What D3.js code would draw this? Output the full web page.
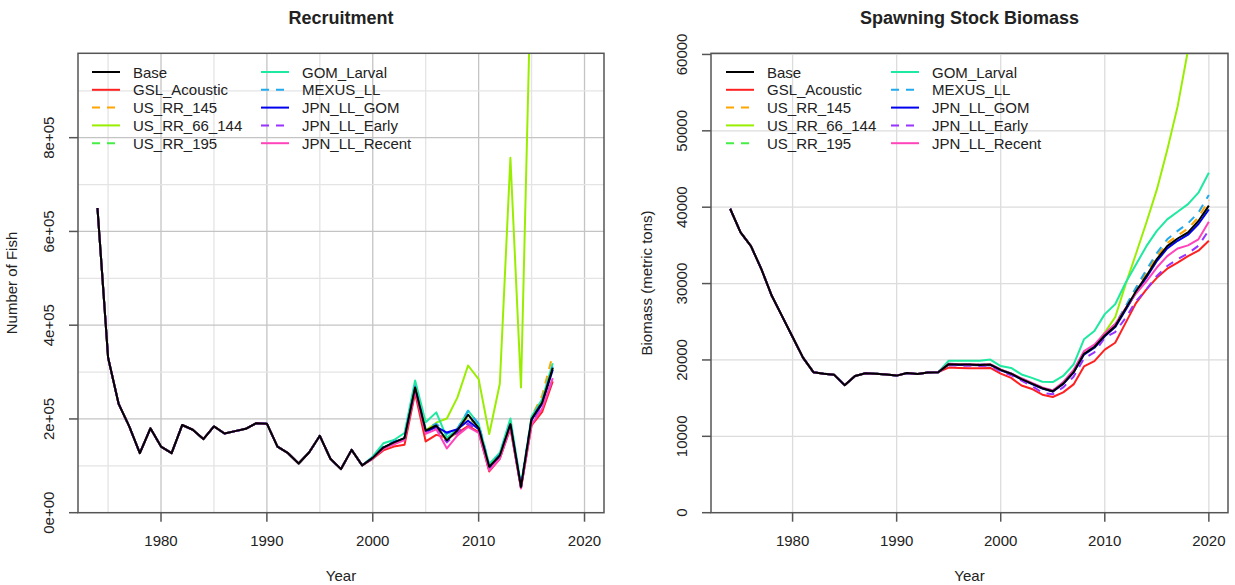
<!DOCTYPE html>
<html>
<head>
<meta charset="utf-8">
<script src="https://cdnjs.cloudflare.com/ajax/libs/d3/7.8.5/d3.min.js"></script>
<style>
  body { margin: 0; background: #fff; }
  text { font-family: "Liberation Sans", Arial, sans-serif; fill: #222; }
</style>
</head>
<body>
<svg id="chart" width="1235" height="585"></svg>
<script>
// series names, in legend order (column 1 then column 2)
var seriesNames = ['Base', 'GSL_Acoustic', 'US_RR_145', 'US_RR_66_144', 'US_RR_195',
                   'GOM_Larval', 'MEXUS_LL', 'JPN_LL_GOM', 'JPN_LL_Early', 'JPN_LL_Recent'];
var seriesColors = ['#000000', '#ff2020', '#ffa500', '#99ee00', '#44ee44',
                    '#1de9a0', '#22aaee', '#0000ee', '#9933ff', '#ff44bb'];
var seriesDashed = [false, false, true, false, true, false, true, false, true, false];

// ---- Recruitment (number of fish) ----
var recYears = d3.range(1974, 2018);
// 1974-1999, shared by all runs
var recEarly = [650000, 331000, 232000, 184000, 127000, 180000, 141000, 127000, 187000, 177000,
                157000, 184000, 169000, 174000, 179000, 191000, 190000, 141000, 127000, 105000,
                129000, 164000, 115000, 93000, 134000, 101000];
// 2000-2017 per run
var recBase   = [117000, 139000, 150000, 159000, 267000, 175000, 186000, 154000, 176000, 209000, 181000, 98000, 122000, 189000, 55000, 200000, 235000, 309000];
var recGSL    = [115000, 133000, 141000, 145000, 255000, 152000, 166000, 160000, 170000, 185000, 172000, 88000, 115000, 180000, 52000, 186000, 215000, 280000];
var recRR145  = [117000, 139000, 150000, 159000, 267000, 174000, 185000, 152000, 175000, 205000, 180000, 97000, 121000, 188000, 55000, 205000, 250000, 337000];
var recRR66   = [117000, 139000, 150000, 159000, 267000, 176000, 192000, 201000, 246000, 314000, 285000, 168000, 275000, 757000, 267000, 1200000, 1500000, 1800000];
var recRR195  = [117000, 140000, 151000, 160000, 268000, 176000, 187000, 155000, 177000, 208000, 181000, 98000, 122000, 189000, 55000, 200000, 236000, 310000];
var recGOM    = [120000, 148000, 155000, 170000, 282000, 193000, 214000, 160000, 178000, 218000, 189000, 104000, 128000, 201000, 60000, 205000, 242000, 319000];
var recMEXUS  = [117000, 140000, 152000, 161000, 270000, 178000, 190000, 168000, 180000, 217000, 190000, 100000, 125000, 192000, 57000, 202000, 238000, 312000];
var recJpnGom = [117000, 139000, 150000, 159000, 265000, 172000, 183000, 171000, 178000, 196000, 178000, 95000, 120000, 187000, 54000, 198000, 232000, 305000];
var recJpnEar = [116000, 137000, 147000, 156000, 262000, 170000, 180000, 150000, 172000, 190000, 175000, 92000, 118000, 185000, 53000, 192000, 225000, 285000];
var recJpnRec = [116000, 136000, 146000, 155000, 260000, 168000, 178000, 137000, 165000, 183000, 170000, 90000, 115000, 182000, 52000, 188000, 222000, 287000];
var recLate = [recBase, recGSL, recRR145, recRR66, recRR195, recGOM, recMEXUS, recJpnGom, recJpnEar, recJpnRec];

// ---- Spawning stock biomass (metric tons) ----
var ssbYears = d3.range(1974, 2021);
// 1974-1994, shared by all runs
var ssbEarly = [39800, 36700, 34900, 31900, 28400, 25700, 23000, 20300, 18400, 18200, 18050,
                16700, 17900, 18250, 18200, 18100, 17950, 18300, 18150, 18350, 18400];
// 1995-2020 per run
var ssbBase   = [19450, 19400, 19400, 19350, 19400, 18700, 18200, 17500, 16900, 16300, 15900, 16900, 18400, 20800, 21700, 23200, 24400, 26700, 29000, 31000, 33200, 34900, 35900, 36700, 38200, 40200];
var ssbGSL    = [19000, 18950, 18900, 18900, 18950, 18200, 17650, 16650, 16200, 15450, 15150, 15750, 16800, 19150, 19850, 21350, 22250, 24850, 27450, 29250, 30750, 31950, 32750, 33600, 34300, 35600];
var ssbRR145  = [19450, 19400, 19400, 19350, 19400, 18700, 18200, 17500, 16900, 16300, 15950, 17000, 18500, 20900, 21800, 23300, 24600, 26900, 29300, 31400, 33600, 35300, 36300, 37200, 38700, 40900];
var ssbRR66   = [19450, 19400, 19400, 19350, 19400, 18700, 18200, 17500, 16900, 16300, 15900, 16900, 18400, 20800, 21700, 23600, 25600, 29900, 33900, 38000, 42300, 47500, 53200, 60600, 68500, 77000];
var ssbRR195  = [19450, 19400, 19400, 19350, 19400, 18700, 18200, 17500, 16900, 16300, 15900, 16900, 18400, 20800, 21700, 23200, 24400, 26700, 28900, 30900, 33000, 34700, 35700, 36500, 38000, 39900];
var ssbGOM    = [19900, 19900, 19900, 19900, 20050, 19200, 18950, 18100, 17650, 17150, 17100, 17900, 19400, 22700, 23800, 26000, 27300, 30100, 32500, 34900, 36900, 38400, 39400, 40400, 41900, 44500];
var ssbMEXUS  = [19500, 19450, 19450, 19400, 19450, 18750, 18250, 17550, 16950, 16350, 16000, 17000, 18550, 21000, 21900, 23400, 24700, 27000, 29500, 31800, 34000, 35800, 36900, 37900, 39300, 41600];
var ssbJpnGom = [19400, 19350, 19350, 19300, 19350, 18650, 18150, 17450, 16850, 16250, 15850, 16850, 18350, 20700, 21600, 23100, 24300, 26550, 28800, 30800, 32950, 34600, 35600, 36400, 37800, 39700];
var ssbJpnEar = [19300, 19250, 19250, 19200, 19250, 18500, 18000, 17300, 16600, 15700, 15500, 16400, 17800, 20200, 21000, 22900, 23650, 25500, 27700, 29250, 31000, 32300, 33200, 33950, 34950, 37000];
var ssbJpnRec = [19500, 19450, 19450, 19400, 19450, 18750, 18250, 17600, 17000, 16400, 16000, 17100, 18700, 21150, 22000, 23500, 24700, 26800, 28700, 30300, 32100, 33600, 34600, 35000, 35800, 38100];
var ssbLate = [ssbBase, ssbGSL, ssbRR145, ssbRR66, ssbRR195, ssbGOM, ssbMEXUS, ssbJpnGom, ssbJpnEar, ssbJpnRec];

var recTicks = [0, 200000, 400000, 600000, 800000];
var ssbTicks = [0, 10000, 20000, 30000, 40000, 50000, 60000];
var yearTicks = [1980, 1990, 2000, 2010, 2020];

var svg = d3.select('#chart');

var drawPanel = function(p) {
  var x = d3.scaleLinear().domain([1972.16, 2021.84]).range([p.left, p.right]);
  var y = d3.scaleLinear().domain([0, p.yMax]).range([p.bottom, p.top]);
  var g = svg.append('g');

  g.append('clipPath').attr('id', p.id + 'clip')
    .append('rect').attr('x', p.left).attr('y', p.top)
    .attr('width', p.right - p.left).attr('height', p.bottom - p.top);

  // grid
  p.gridX.forEach(function(v) {
    g.append('line').attr('x1', x(v)).attr('x2', x(v)).attr('y1', p.top).attr('y2', p.bottom)
      .attr('stroke', v % 10 === 0 ? p.gridMajor : p.gridMinor).attr('stroke-width', 1.3);
  });
  p.gridY.forEach(function(v) {
    g.append('line').attr('x1', p.left).attr('x2', p.right).attr('y1', y(v)).attr('y2', y(v))
      .attr('stroke', p.yMajor(v) ? p.gridMajor : p.gridMinor).attr('stroke-width', 1.3);
  });

  // lines: other runs first, Base on top
  var line = d3.line().x(function(d) { return x(d[0]); }).y(function(d) { return y(d[1]); });
  var order = d3.range(1, seriesNames.length).concat([0]);
  var lines = g.append('g').attr('clip-path', 'url(#' + p.id + 'clip)');
  order.forEach(function(i) {
    var vals = p.early.concat(p.late[i]);
    var pts = p.years.map(function(yr, k) { return [yr, vals[k]]; });
    lines.append('path').attr('d', line(pts))
      .attr('fill', 'none').attr('stroke', seriesColors[i]).attr('stroke-width', 2)
      .attr('stroke-linejoin', 'round')
      .attr('stroke-dasharray', seriesDashed[i] ? '8,7' : null);
  });

  // box
  g.append('rect').attr('x', p.left).attr('y', p.top)
    .attr('width', p.right - p.left).attr('height', p.bottom - p.top)
    .attr('fill', 'none').attr('stroke', '#555').attr('stroke-width', 1.5);

  // x axis
  yearTicks.forEach(function(v) {
    g.append('line').attr('x1', x(v)).attr('x2', x(v)).attr('y1', p.bottom).attr('y2', p.bottom + 9)
      .attr('stroke', '#555').attr('stroke-width', 1.5);
    g.append('text').attr('x', x(v)).attr('y', 546).attr('text-anchor', 'middle')
      .style('font-size', '15px').text(v);
  });
  // y axis
  p.yTicks.forEach(function(v) {
    g.append('line').attr('x1', p.left - 9).attr('x2', p.left).attr('y1', y(v)).attr('y2', y(v))
      .attr('stroke', '#555').attr('stroke-width', 1.5);
    g.append('text').attr('transform', 'translate(' + (p.left - 24) + ',' + y(v) + ') rotate(-90)')
      .attr('text-anchor', 'middle').style('font-size', '15px').text(p.yFormat(v));
  });

  // titles
  g.append('text').attr('x', (p.left + p.right) / 2).attr('y', 24).attr('text-anchor', 'middle')
    .style('font-size', '18px').style('font-weight', 'bold').text(p.title);
  g.append('text').attr('x', (p.left + p.right) / 2).attr('y', 581).attr('text-anchor', 'middle')
    .style('font-size', '15px').text('Year');
  g.append('text').attr('transform', 'translate(' + p.ylabX + ',' + ((p.top + p.bottom) / 2) + ') rotate(-90)')
    .attr('text-anchor', 'middle').style('font-size', '15px').text(p.ylab);

  // legend (no box), two columns of five
  seriesNames.forEach(function(name, i) {
    var col = Math.floor(i / 5), row = i % 5;
    var lx = p.legX[col], ly = 72 + row * 17.8;
    g.append('line').attr('x1', lx).attr('x2', lx + 28).attr('y1', ly).attr('y2', ly)
      .attr('stroke', seriesColors[i]).attr('stroke-width', 2)
      .attr('stroke-dasharray', seriesDashed[i] ? '8,7' : null);
    g.append('text').attr('x', lx + 41).attr('y', ly + 5.5).style('font-size', '15px').text(name);
  });
};

drawPanel({
  id: 'rec', title: 'Recruitment', ylab: 'Number of Fish', ylabX: 17,
  left: 78, right: 604, top: 53.3, bottom: 512.7, yMax: 980000,
  years: recYears, early: recEarly, late: recLate,
  yTicks: recTicks,
  yFormat: function(v) { return v === 0 ? '0e+00' : (v / 100000) + 'e+05'; },
  gridX: d3.range(1975, 2021, 5), gridY: d3.range(100000, 1000000, 100000),
  yMajor: function(v) { return v % 200000 === 0; },
  gridMajor: '#c4c4c4', gridMinor: '#e4e4e4',
  legX: [92, 261]
});

drawPanel({
  id: 'ssb', title: 'Spawning Stock Biomass', ylab: 'Biomass (metric tons)', ylabX: 652,
  left: 711, right: 1228, top: 53.3, bottom: 512.7, yMax: 60150,
  years: ssbYears, early: ssbEarly, late: ssbLate,
  yTicks: ssbTicks,
  yFormat: function(v) { return String(v); },
  gridX: yearTicks, gridY: d3.range(10000, 60001, 10000),
  yMajor: function(v) { return true; },
  gridMajor: '#dcdcdc', gridMinor: '#dcdcdc',
  legX: [726, 891]
});
</script>
</body>
</html>
